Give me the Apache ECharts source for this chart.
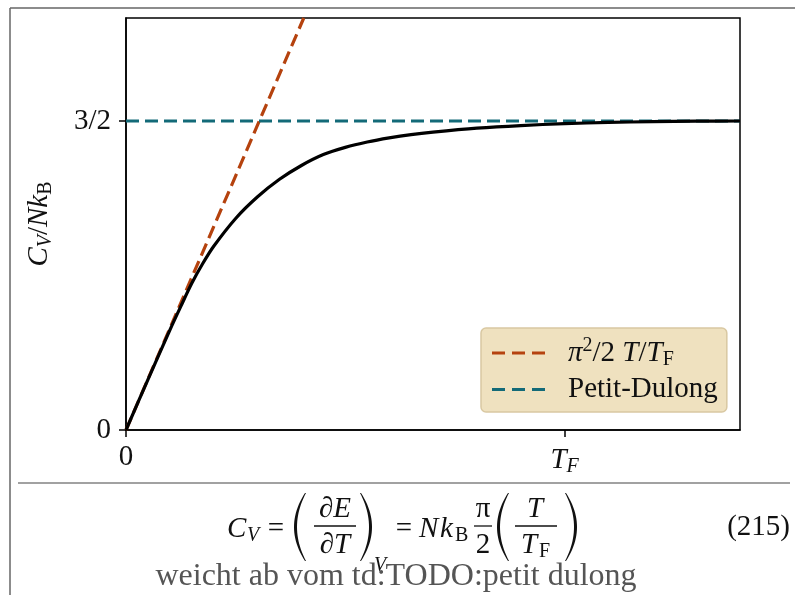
<!DOCTYPE html>
<html><head><meta charset="utf-8">
<script src="https://cdn.jsdelivr.net/npm/echarts@6/dist/echarts.min.js"></script>
<style>html,body{margin:0;padding:0;background:#fff}#c{width:795px;height:595px}</style>
</head><body><div id="c"></div>
<script>
// Data (T in units of T_F, C_V in units of N k_B)
const curveT = [0, 0.05, 0.10, 0.125, 0.15, 0.175, 0.20, 0.25, 0.30, 0.35, 0.40, 0.45, 0.50, 0.55, 0.60, 0.65, 0.70, 0.80, 0.90, 1.00, 1.10, 1.20, 1.30, 1.40];
const curveC = [0, 0.245, 0.485, 0.600, 0.712, 0.808, 0.892, 1.027, 1.132, 1.217, 1.284, 1.337, 1.372, 1.398, 1.418, 1.434, 1.446, 1.465, 1.478, 1.487, 1.493, 1.497, 1.499, 1.50];
const linearT = [0, 0.4053];
const linearC = [0, 2.0];
const dulongT = [0, 1.4];
const dulongC = [1.5, 1.5];
const xTicks = [0, 1];
const xTickLabels = ['0', '{i|T}{isub|F}'];
const yTicks = [0, 1.5];
const yTickLabels = ['0', '3/2'];
const seriesNames = ['linear', 'Petit-Dulong'];

const zip = (a, b) => a.map((v, i) => [v, b[i]]);
const SERIF = '"Liberation Serif", "DejaVu Serif", serif';
const RED = '#B5420E', TEAL = '#136A78';
const FS = 29, SFS = 20;

const chart = echarts.init(document.getElementById('c'), null, {renderer: 'canvas'});

function txt(t, x, y, size, opts) {
  opts = opts || {};
  return {type: 'text', silent: true, style: {
    text: t, x: x, y: y, fill: opts.fill || '#111',
    font: (opts.italic ? 'italic ' : '') + 'normal ' + size + 'px ' + SERIF,
    align: opts.align || 'left', verticalAlign: 'middle'}};
}
function hline(x1, x2, y, w, c) {
  return {type: 'line', silent: true, shape: {x1: x1, y1: y, x2: x2, y2: y}, style: {stroke: c || '#111', lineWidth: w || 1.2}};
}
// big delimiter drawn as a thin crescent polygon (decoration of the formula text)
function quad(p0, c, p1, n) {
  const pts = [];
  for (let k = 0; k <= n; k++) {
    const t = k / n, a = (1 - t) * (1 - t), b = 2 * t * (1 - t), d = t * t;
    pts.push([a * p0[0] + b * c[0] + d * p1[0], a * p0[1] + b * c[1] + d * p1[1]]);
  }
  return pts;
}
function paren(x, y0, y1, left) {
  const w = 11, ym = (y0 + y1) / 2, s = left ? 1 : -1;
  const xe = x + s * w;
  const outer = quad([xe, y0], [xe - s * 2 * w, ym], [xe, y1], 24);
  const inner = quad([xe + s * 1, y1], [xe - s * (2 * w - 5), ym], [xe + s * 1, y0], 24);
  return {type: 'polygon', silent: true, shape: {points: outer.concat(inner)}, style: {fill: '#111', stroke: null}};
}

const BAR = 526, NUM = 509, DEN = 545, MID = 529, PT = 493, PB = 561;
const graphics = [
  {type: 'line', silent: true, shape: {x1: 10, y1: 8, x2: 795, y2: 8}, style: {stroke: '#666', lineWidth: 1.5}},
  {type: 'line', silent: true, shape: {x1: 10, y1: 8, x2: 10, y2: 595}, style: {stroke: '#666', lineWidth: 1.5}},
  hline(18, 790, 483, 1.2, '#444'),
  // equation  C_V = (dE/dT)_V = N k_B pi/2 (T/T_F)
  txt('C', 227, MID, FS, {italic: true}),
  txt('V', 247, MID + 7, SFS, {italic: true}),
  txt('=', 276, MID, FS, {align: 'center'}),
  paren(294, PT, PB, true),
  txt('∂E', 335, NUM, FS, {italic: true, align: 'center'}),
  hline(314, 356, BAR, 1.3),
  txt('∂T', 335, DEN, FS, {italic: true, align: 'center'}),
  paren(372, PT, PB, false),
  txt('V', 374, 566, SFS, {italic: true}),
  txt('=', 404, MID, FS, {align: 'center'}),
  txt('N', 419, MID, FS, {italic: true}),
  txt('k', 440, MID, FS, {italic: true}),
  txt('B', 455, MID + 7, SFS),
  txt('π', 483, NUM, FS, {align: 'center'}),
  hline(474, 492, BAR, 1.3),
  txt('2', 483, DEN, FS, {align: 'center'}),
  paren(497, PT, PB, true),
  txt('T', 535, NUM, FS, {italic: true, align: 'center'}),
  hline(515, 557, BAR, 1.3),
  txt('T', 529, DEN, FS, {italic: true, align: 'center'}),
  txt('F', 539, DEN + 7, SFS),
  paren(577, PT, PB, false),
  txt('(215)', 790, 527, FS, {align: 'right'}),
  txt('weicht ab vom td:TODO:petit dulong', 396, 577, 32, {align: 'center', fill: '#555'})
];

const richBase = {
  n: {fontFamily: SERIF, fontSize: FS, color: '#111', lineHeight: 34},
  i: {fontFamily: SERIF, fontSize: FS, fontStyle: 'italic', color: '#111', lineHeight: 34},
  sub: {fontFamily: SERIF, fontSize: SFS, color: '#111', lineHeight: 20, verticalAlign: 'bottom'},
  isub: {fontFamily: SERIF, fontSize: SFS, fontStyle: 'italic', color: '#111', lineHeight: 20, verticalAlign: 'bottom'},
  sup: {fontFamily: SERIF, fontSize: SFS, color: '#111', lineHeight: 20, verticalAlign: 'top'}
};
const dashIcon = 'path://M0,0H13V3H0Z M20,0H33V3H20Z M40,0H53V3H40Z';

const option = {
  animation: false,
  backgroundColor: '#fff',
  grid: {left: 126, right: 55, top: 18, bottom: 165, show: true, borderColor: '#000', borderWidth: 1.5, backgroundColor: 'transparent'},
  xAxis: {
    type: 'value', min: 0, max: 1.4,
    splitLine: {show: false},
    axisLine: {lineStyle: {color: '#000', width: 1.5}},
    axisTick: {show: true, length: 7, lineStyle: {color: '#000', width: 1.5}, customValues: xTicks},
    axisLabel: {customValues: xTicks, margin: 13, color: '#111', fontFamily: SERIF, fontSize: FS,
      formatter: v => xTickLabels[xTicks.indexOf(v)] || '', rich: richBase}
  },
  yAxis: {
    type: 'value', min: 0, max: 2,
    splitLine: {show: false},
    axisLine: {lineStyle: {color: '#000', width: 1.5}},
    axisTick: {show: true, length: 7, lineStyle: {color: '#000', width: 1.5}, customValues: yTicks},
    axisLabel: {customValues: yTicks, margin: 15, color: '#111', fontFamily: SERIF, fontSize: FS,
      formatter: v => yTickLabels[yTicks.indexOf(v)] || ''},
    name: '{i|C}{isub|V}{n|/}{i|Nk}{sub|B}',
    nameLocation: 'middle', nameRotate: 90, nameGap: 70,
    nameTextStyle: {rich: richBase}
  },
  legend: {
    orient: 'vertical', left: 481, top: 328,
    backgroundColor: '#EFE1BF', borderColor: '#D9C8A2', borderWidth: 1.5, borderRadius: 5,
    padding: [8, 9, 8, 11], itemGap: 5, itemWidth: 53, itemHeight: 3,
    data: [
      {name: seriesNames[0], icon: dashIcon, itemStyle: {color: RED}},
      {name: seriesNames[1], icon: dashIcon, itemStyle: {color: TEAL}}
    ],
    textStyle: {fontFamily: SERIF, fontSize: FS, color: '#111', rich: richBase, padding: [0, 0, 0, 18]},
    formatter: name => name === 'linear' ? '{i|π}{sup|2}{n|/2 }{i|T}{n|/}{i|T}{sub|F}' : '{n|Petit-Dulong}'
  },
  series: [
    {name: 'curve', type: 'line', data: zip(curveT, curveC), smooth: 0.3, symbol: 'none',
     lineStyle: {color: '#000', width: 3.2}, z: 3},
    {name: 'linear', type: 'line', data: zip(linearT, linearC), symbol: 'none', clip: true,
     itemStyle: {color: RED}, lineStyle: {color: RED, width: 3.2, type: [13, 6]}, z: 2},
    {name: 'Petit-Dulong', type: 'line', data: zip(dulongT, dulongC), symbol: 'none',
     itemStyle: {color: TEAL}, lineStyle: {color: TEAL, width: 3.2, type: [13, 6]}, z: 2}
  ],
  graphic: graphics
};
chart.setOption(option);
</script>
</body></html>
